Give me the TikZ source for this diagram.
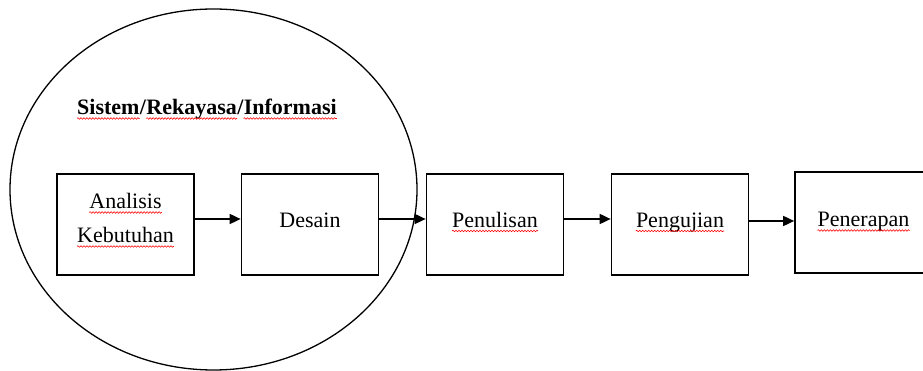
\documentclass[tikz,border=0pt]{standalone}
\usepackage{fontspec}
\setmainfont{Liberation Serif}
\usetikzlibrary{arrows.meta,decorations.pathmorphing}
\begin{document}
\begin{tikzpicture}[x=1pt,y=1pt,
        box/.style={draw,line width=1.7pt,minimum width=137pt,minimum height=101pt,inner sep=0pt},
        word/.style={inner sep=0pt,font=\fontsize{22}{26}\selectfont},
        squiggle/.style={draw=red,line width=0.6pt,decorate,
            decoration={snake,segment length=3pt,amplitude=0.8pt}},
        flow/.style={line width=1.7pt,-{Triangle[length=11pt,width=10pt]}}]
    \useasboundingbox (0,0) rectangle (923,371);
        %% system / engineering / information
        \draw[line width=1.3pt] (213.5,181.5) ellipse (203.5pt and 180.5pt);
        \node[word,font=\fontsize{22}{26}\selectfont\bfseries,anchor=base west] (sistem) at (77,256) {Sistem};
        \node[word,font=\fontsize{22}{26}\selectfont\bfseries,anchor=base west] (slash1) at (sistem.base east) {/};
        \node[word,font=\fontsize{22}{26}\selectfont\bfseries,anchor=base west] (rekayasa) at (slash1.base east) {Rekayasa};
        \node[word,font=\fontsize{22}{26}\selectfont\bfseries,anchor=base west] (slash2) at (rekayasa.base east) {/};
        \node[word,font=\fontsize{22}{26}\selectfont\bfseries,anchor=base west] (informasi) at (slash2.base east) {Informasi};
        %% stages
        \node[box] (analisis) at (125.5,146.5) {};
        \node[box] (desain) at (310,146.5) {};
        \node[box] (penulisan) at (495,146.5) {};
        \node[box] (pengujian) at (680,146.5) {};
        \node[box] (penerapan) at (863.5,148.5) {};
        \node[word,anchor=base] (tanalisis) at ([yshift=15.5pt]analisis.center) {Analisis};
        \node[word,anchor=base] (tkebutuhan) at ([yshift=-18.5pt]analisis.center) {Kebutuhan};
        \node[word,anchor=base] (tdesain) at ([yshift=-3pt]desain.center) {Desain};
        \node[word,anchor=base] (tpenulisan) at ([yshift=-3pt]penulisan.center) {Penulisan};
        \node[word,anchor=base] (tpengujian) at ([yshift=-3pt]pengujian.center) {Pengujian};
        \node[word,anchor=base] (tpenerapan) at ([yshift=-4.5pt]penerapan.center) {Penerapan};
        %% spell-check marks
        \foreach \w in {sistem,rekayasa,informasi,tanalisis,tkebutuhan,tpenulisan,tpengujian,tpenerapan}
            \draw[squiggle] ([yshift=-3.5pt]\w.base west) -- ([yshift=-3.5pt]\w.base east);
        %% arrows
        \draw[flow] ([yshift=5.5pt]analisis.east) -- ([yshift=5.5pt]desain.west);
        \draw[flow] ([yshift=5.5pt]desain.east) -- ([yshift=5.5pt]penulisan.west);
        \draw[flow] ([yshift=5.5pt]penulisan.east) -- ([yshift=5.5pt]pengujian.west);
        \draw[flow] ([yshift=3.5pt]pengujian.east) -- ([yshift=1.5pt]penerapan.west);
    \end{tikzpicture}
\end{document}
